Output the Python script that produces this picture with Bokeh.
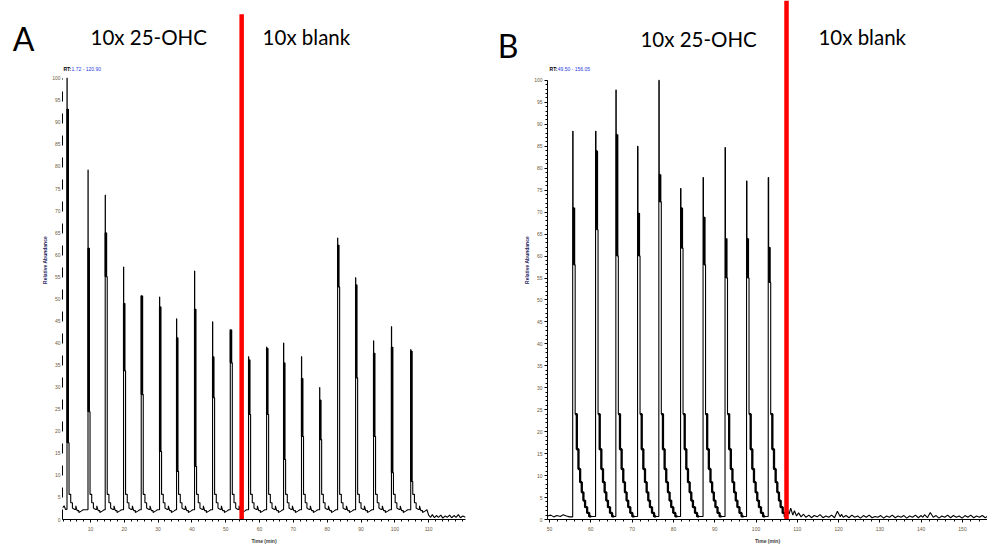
from bokeh.plotting import figure
from bokeh.layouts import row
from bokeh.models import Range1d, FixedTicker, Label, LinearAxis
from bokeh.embed import file_html
from bokeh.resources import INLINE

# ---------------- Panel A : 10x 25-OHC then 10x blank ----------------
A_PEAK_T = [3.05, 9.26, 14.35, 19.77, 25.0, 30.42, 35.45, 40.77, 46.1, 51.34,
            56.75, 62.08, 67.1, 72.4, 77.76, 83.08, 88.4, 93.7, 99.0, 104.7]
A_APEX = [100, 79.2, 73.5, 57.2, 50.7, 50.4, 45.5, 56.3, 44.8, 43.0,
          36.9, 39.1, 40.0, 36.9, 29.9, 63.8, 54.8, 40.5, 43.7, 38.5]
A_THICK_TOP = [93, 61.5, 65, 49, 50.7, 48.2, 41.2, 47.7, 36.9, 43.0,
               36.2, 38.8, 35.5, 32.0, 27.1, 62.2, 53.2, 37.7, 39.1, 38.2]
A_THICK_BOT = [17.4, 24.4, 55, 33.7, 28.3, 15.4, 10.9, 12.0, 27.6, 35.5,
               23.8, 23.8, 13.6, 18.8, 18.1, 52.7, 32.1, 18.8, 10.6, 8.6]
A_TAIL_DT = [0.6, 1.1, 1.1, 1.6, 1.6, 2.2, 2.6, 2.6, 3.0, 3.5, 3.5, 4.2, 4.8]
A_TAIL_Y = [5.7, 5.7, 3.8, 3.8, 2.6, 2.3, 2.3, 3.1, 2.0, 2.0, 1.6, 1.9, 2.2]
A_PRE_T = [1.72, 2.2, 2.6]
A_PRE_Y = [2.6, 3.1, 2.3]
A_POST_T = [110.0, 110.6, 111.1, 111.7, 112.3, 112.9, 113.6, 114.2, 114.9, 115.5,
            116.2, 116.8, 117.5, 118.1, 118.8, 119.4, 120.1, 120.9]
A_POST_Y = [1.0, 0.5, 1.1, 0.4, 0.9, 0.5, 1.0, 0.3, 0.8, 0.5,
            1.0, 0.4, 0.9, 0.5, 1.1, 0.4, 0.8, 0.5]
A_SWITCH = 54.7
A_XTICKS = [10, 20, 30, 40, 50, 60, 70, 80, 90, 100, 110]
A_XMINOR = list(range(2, 121, 2))
A_YTICKS = list(range(0, 101, 5))
A_RT = "1.72 - 120.90"

# ---------------- Panel B : 10x 25-OHC then 10x blank ----------------
B_PEAK_T = [55.6, 61.14, 66.05, 71.31, 76.46, 81.72, 87.17, 92.49, 97.70, 102.95]
B_APEX = [88.4, 88.4, 97.8, 85.0, 100, 75.4, 77.9, 84.7, 77.1, 77.9]
B_THICK_TOP = [71, 84, 87.7, 69.8, 78.6, 71, 68.9, 64, 64, 62]
B_THICK_BOT = [58, 66, 60, 60, 72.3, 61.8, 58, 55, 55, 54]
B_TAIL_DT = [0.6, 1.0, 1.0, 1.4, 1.4, 1.8, 1.8, 2.2, 2.2, 2.6, 2.6, 3.0, 3.0, 3.5, 3.5, 4.0, 4.0, 4.5]
B_TAIL_Y = [24, 24, 16, 16, 11.5, 11.5, 8.5, 8.5, 6.2, 6.2, 4.3, 4.3, 2.8, 2.8, 1.5, 1.5, 0.7, 0.7]
B_PRE_T = [49.5, 50.3, 51.0, 51.8, 52.6, 53.3, 54.1, 54.8, 55.3]
B_PRE_Y = [0.8, 1.0, 0.6, 0.9, 0.7, 1.1, 0.8, 0.6, 0.6]
B_POST_T = [107.6, 108.0, 108.4, 108.9, 109.3, 109.8, 110.3, 110.9, 111.5, 112.1,
            112.8, 113.4, 114.1, 114.8, 115.5, 116.2, 116.9, 117.6, 118.3, 119.0,
            119.7, 120.4, 120.7, 121.1, 121.8, 122.5, 123.2, 123.9, 124.6, 125.3,
            126.0, 126.7, 127.4, 128.1, 128.8, 129.5, 130.2, 130.9, 131.6, 132.3,
            133.0, 133.7, 134.4, 135.1, 135.8, 136.5, 137.2, 137.9, 138.6, 139.3,
            140.0, 140.4, 140.8, 141.5, 142.2, 142.9, 143.6, 144.3, 145.0, 145.7,
            146.4, 147.1, 147.8, 148.5, 149.2, 149.9, 150.6, 151.3, 152.0, 152.7,
            153.4, 154.1, 154.8, 155.5, 156.05]
B_POST_Y = [2.2, 1.2, 2.6, 1.0, 2.0, 0.8, 1.5, 0.6, 1.2, 0.5,
            1.0, 0.4, 0.9, 0.6, 1.1, 0.4, 0.8, 0.5, 1.0, 0.4,
            1.9, 0.6, 1.2, 0.5, 0.9, 0.4, 1.0, 0.5, 0.8, 0.3,
            0.9, 0.5, 1.0, 0.4, 0.7, 0.5, 0.9, 0.3, 0.8, 0.5,
            1.0, 0.4, 0.8, 0.5, 0.9, 0.3, 0.8, 0.5, 1.0, 0.4,
            0.9, 0.5, 1.1, 0.4, 1.6, 0.5, 0.9, 0.3, 0.8, 0.5,
            1.0, 0.4, 0.9, 0.5, 0.8, 0.3, 0.9, 0.5, 1.0, 0.4,
            0.8, 0.5, 0.9, 0.4, 0.7]
B_SWITCH = 107.38
B_XTICKS = [50, 60, 70, 80, 90, 100, 110, 120, 130, 140, 150]
B_XMINOR = list(range(50, 157, 2))
B_YTICKS = list(range(0, 101, 5))
B_YMINOR = list(range(0, 101, 1))
B_RT = "49.50 - 156.05"

TICK_COLOR = "#6e5a3c"


def build_trace(pre_t, pre_y, peaks, apex, top, bot, tail_dt, tail_y, post_t, post_y,
                d_top, d_thick, d_fall):
    xs, ys = list(pre_t), list(pre_y)
    for t0, a, tp, bt in zip(peaks, apex, top, bot):
        xs += [t0, t0, t0 + d_top, t0 + d_top, t0 + d_thick, t0 + d_thick, t0 + d_fall, t0 + d_fall]
        ys += [ys[-1], a, a, tp, tp, bt, bt, tail_y[0]]
        for dt, y in zip(tail_dt, tail_y):
            xs.append(t0 + dt)
            ys.append(y)
    xs += list(post_t)
    ys += list(post_y)
    return xs, ys


def style_axes(p, xticks, xminor, yticks, yminor):
    p.xgrid.visible = False
    p.ygrid.visible = False
    p.outline_line_color = None
    p.background_fill_color = "white"
    p.border_fill_color = "white"
    p.xaxis.ticker = FixedTicker(ticks=xticks, minor_ticks=xminor)
    p.yaxis.ticker = FixedTicker(ticks=yticks, minor_ticks=yminor)
    p.yaxis.bounds = (0, 100)
    for ax in (p.xaxis[0], p.yaxis[0]):
        ax.axis_line_color = "black"
        ax.major_tick_line_color = "black"
        ax.minor_tick_line_color = "black"
        ax.major_tick_in = 0
        ax.minor_tick_in = 0
        ax.major_label_text_font = "Liberation Sans"
        ax.major_label_text_font_size = "5px"
        ax.major_label_text_color = TICK_COLOR
        ax.axis_label_text_font = "Liberation Sans"
        ax.axis_label_text_font_size = "5px"
        ax.axis_label_text_font_style = "bold"
    p.xaxis.axis_label = "Time (min)"
    p.xaxis.axis_label_text_color = "#3a3a3a"
    p.xaxis.major_tick_out = 3
    p.xaxis.minor_tick_out = 2
    p.xaxis.major_label_standoff = 4
    p.xaxis.axis_label_standoff = 4
    p.yaxis.axis_label = "Relative Abundance"
    p.yaxis.axis_label_text_color = "#1c1c5c"
    p.yaxis.major_label_standoff = 2
    p.yaxis.axis_label_standoff = 1


def add_letter(p, letter, ypos, standoff):
    # panel letter drawn as the only tick label of an unlined extra left axis
    ax = LinearAxis(ticker=FixedTicker(ticks=[ypos], minor_ticks=[]),
                    major_label_overrides={ypos: letter},
                    axis_line_color=None, major_tick_line_color=None, minor_tick_line_color=None,
                    major_tick_out=0, major_tick_in=0, minor_tick_out=0, minor_tick_in=0,
                    major_label_text_font="Lato", major_label_text_font_size="32px",
                    major_label_text_color="black", major_label_standoff=standoff)
    p.add_layout(ax, "left")


def add_texts(p, t1x, t1y, t2x, t2y, rtx0, rtx1, rty, rt):
    p.add_layout(Label(x=t1x, y=t1y, text="10x 25-OHC", text_font="Lato", text_font_size="20.5px",
                       text_color="black", text_baseline="alphabetic"))
    p.add_layout(Label(x=t2x, y=t2y, text="10x blank", text_font="Lato", text_font_size="20.5px",
                       text_color="black", text_baseline="alphabetic"))
    p.add_layout(Label(x=rtx0, y=rty, text="RT:", text_font="Liberation Sans", text_font_size="5px",
                       text_color="black", text_baseline="middle", text_font_style="bold"))
    p.add_layout(Label(x=rtx1, y=rty, text=rt, text_font="Liberation Sans", text_font_size="5px",
                       text_color="#2a3adf", text_baseline="middle"))


# ---------------- Figure A ----------------
pa = figure(width=490, height=546, x_range=Range1d(1.72, 120.9), y_range=Range1d(0, 117.6),
            output_backend="svg", toolbar_location=None,
            min_border_left=62, min_border_right=25, min_border_top=0, min_border_bottom=26)
style_axes(pa, A_XTICKS, A_XMINOR, A_YTICKS, [])
pa.yaxis.axis_line_dash = "10 12"
pa.yaxis.major_tick_out = 0
pa.yaxis.minor_tick_out = 0
add_letter(pa, "A", 109, 5)

ax_, ay_ = build_trace(A_PRE_T, A_PRE_Y, A_PEAK_T, A_APEX, A_THICK_TOP, A_THICK_BOT,
                       A_TAIL_DT, A_TAIL_Y, A_POST_T, A_POST_Y, 0.05, 0.25, 0.6)
pa.line(ax_, ay_, line_color="black", line_width=1.1)
pa.segment(x0=[t + 0.2 for t in A_PEAK_T], y0=A_THICK_TOP,
           x1=[t + 0.2 for t in A_PEAK_T], y1=A_THICK_BOT, line_color="black", line_width=2.6)
pa.segment(x0=[A_SWITCH], y0=[-2], x1=[A_SWITCH], y1=[114.5], line_color="#ff0000", line_width=4.5)
add_texts(pa, 10.0, 109.4, 60.9, 109.4, 2.0, 4.4, 102.0, A_RT)

# ---------------- Figure B ----------------
pb = figure(width=497, height=546, x_range=Range1d(49.5, 156.05), y_range=Range1d(0, 118.2),
            output_backend="svg", toolbar_location=None,
            min_border_left=57, min_border_right=0, min_border_top=0, min_border_bottom=26)
style_axes(pb, B_XTICKS, B_XMINOR, B_YTICKS, B_YMINOR)
pb.yaxis.major_tick_out = 3
pb.yaxis.minor_tick_out = 2
add_letter(pb, "B", 108, 3)

bx_, by_ = build_trace(B_PRE_T, B_PRE_Y, B_PEAK_T, B_APEX, B_THICK_TOP, B_THICK_BOT,
                       B_TAIL_DT, B_TAIL_Y, B_POST_T, B_POST_Y, 0.1, 0.3, 0.6)
pb.line(bx_, by_, line_color="black", line_width=1.1)
pb.segment(x0=[t + 0.3 for t in B_PEAK_T], y0=B_THICK_TOP,
           x1=[t + 0.3 for t in B_PEAK_T], y1=B_THICK_BOT, line_color="black", line_width=2.6)
pb.multi_line(xs=[[t + dt for dt in B_TAIL_DT] for t in B_PEAK_T],
              ys=[B_TAIL_Y for _ in B_PEAK_T], line_color="black", line_width=2.3)
pb.segment(x0=[B_SWITCH], y0=[-2], x1=[B_SWITCH], y1=[118.2], line_color="#ff0000", line_width=4.5)
add_texts(pb, 72.0, 109.4, 115.1, 109.9, 50.0, 52.0, 102.7, B_RT)

layout = row(pa, pb)
open("out.html", "w").write(file_html(layout, INLINE))
